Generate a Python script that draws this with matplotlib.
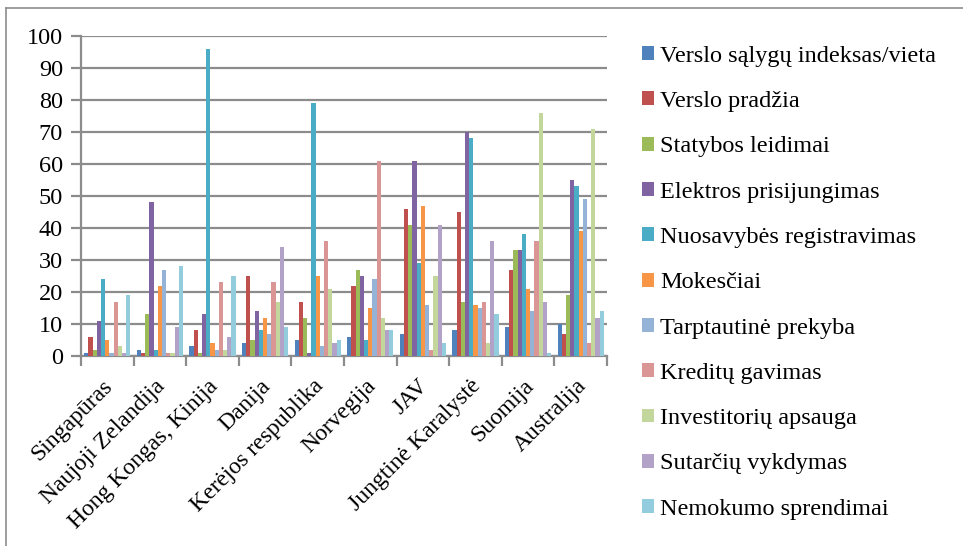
import numpy as np
import matplotlib
matplotlib.use('Agg')
import matplotlib.pyplot as plt
from matplotlib.patches import Patch
from matplotlib.lines import Line2D

plt.rcParams['font.family'] = ['Liberation Serif', 'DejaVu Serif']

countries = ['Singapūras', 'Naujoji Zelandija', 'Hong Kongas, Kinija', 'Danija',
             'Kerėjos respublika', 'Norvegija', 'JAV', 'Jungtinė Karalystė',
             'Suomija', 'Australija']

series_names = ['Verslo sąlygų indeksas/vieta', 'Verslo pradžia', 'Statybos leidimai',
                'Elektros prisijungimas', 'Nuosavybės registravimas', 'Mokesčiai',
                'Tarptautinė prekyba', 'Kreditų gavimas', 'Investitorių apsauga',
                'Sutarčių vykdymas', 'Nemokumo sprendimai']

colors = ['#4F81BD', '#C0504D', '#9BBB59', '#8064A2', '#4BACC6', '#F79646',
          '#95B3D7', '#D99694', '#C3D69B', '#B3A2C7', '#93CDDD']

# one list per series, values in country order
verslo_vieta = [1, 2, 3, 4, 5, 6, 7, 8, 9, 10]
verslo_pradzia = [6, 1, 8, 25, 17, 22, 46, 45, 27, 7]
statybos = [2, 13, 1, 5, 12, 27, 41, 17, 33, 19]
elektros = [11, 48, 13, 14, 1, 25, 61, 70, 33, 55]
nuosavybes = [24, 2, 96, 8, 79, 5, 29, 68, 38, 53]
mokesciai = [5, 22, 4, 12, 25, 15, 47, 16, 21, 39]
prekyba = [1, 27, 2, 7, 3, 24, 16, 15, 14, 49]
kreditai = [17, 1, 23, 23, 36, 61, 2, 17, 36, 4]
investitoriai = [3, 1, 2, 17, 21, 12, 25, 4, 76, 71]
sutartys = [1, 9, 6, 34, 4, 8, 41, 36, 17, 12]
nemokumas = [19, 28, 25, 9, 5, 8, 4, 13, 1, 14]

all_series = [verslo_vieta, verslo_pradzia, statybos, elektros, nuosavybes, mokesciai,
              prekyba, kreditai, investitoriai, sutartys, nemokumas]

grid_c = '#8c8c8c'

fig = plt.figure(figsize=(9.63, 5.46), dpi=100)
ax = fig.add_axes([81/963, 1-356/546, (607-81)/963, (356-36)/546])

n = len(all_series)
group_w = 0.88
bw = group_w / n
x = np.arange(len(countries))
for i, vals in enumerate(all_series):
    ax.bar(x - group_w/2 + bw*(i+0.5), vals, width=bw, color=colors[i], zorder=3)

ax.set_xlim(-0.5, len(countries)-0.5)
ax.set_ylim(0, 100)
ax.set_yticks(np.arange(0, 101, 10))
ax.yaxis.grid(True, color=grid_c, linewidth=1.6, zorder=0)
ax.tick_params(axis='y', length=7, width=1.6, color=grid_c, labelsize=17.5, pad=6)

# x ticks sit between the groups, labels are placed by hand below
ax.set_xticks(np.arange(-0.5, len(countries)))
ax.set_xticklabels([])
ax.tick_params(axis='x', length=7, width=1.6, color=grid_c, direction='out')
for i, c in enumerate(countries):
    ax.annotate(c, xy=(i - 0.1, 0), xycoords=('data', 'axes fraction'),
                xytext=(0, -14), textcoords='offset points',
                rotation=45, ha='right', va='top', rotation_mode='anchor', fontsize=17)

for s in ['top', 'right']:
    ax.spines[s].set_visible(False)
for s in ['left', 'bottom']:
    ax.spines[s].set_color(grid_c)
    ax.spines[s].set_linewidth(1.6)

handles = [Patch(facecolor=colors[i], label=series_names[i]) for i in range(n)]
fig.legend(handles=handles, loc='upper left', bbox_to_anchor=(632/963, 1-36/546),
           frameon=False, fontsize=17.5, handlelength=0.5, handleheight=0.5,
           handletextpad=0.25, labelspacing=1.0, borderaxespad=0)

# chart frame (only top and left edges visible in the crop)
fig.add_artist(Line2D([6/963, 6/963], [0, 1-8/546], color='#8c8c8c', lw=1.2))
fig.add_artist(Line2D([6/963, 1], [1-8/546, 1-8/546], color='#8c8c8c', lw=1.2))

fig.savefig('out.png', dpi=100)
